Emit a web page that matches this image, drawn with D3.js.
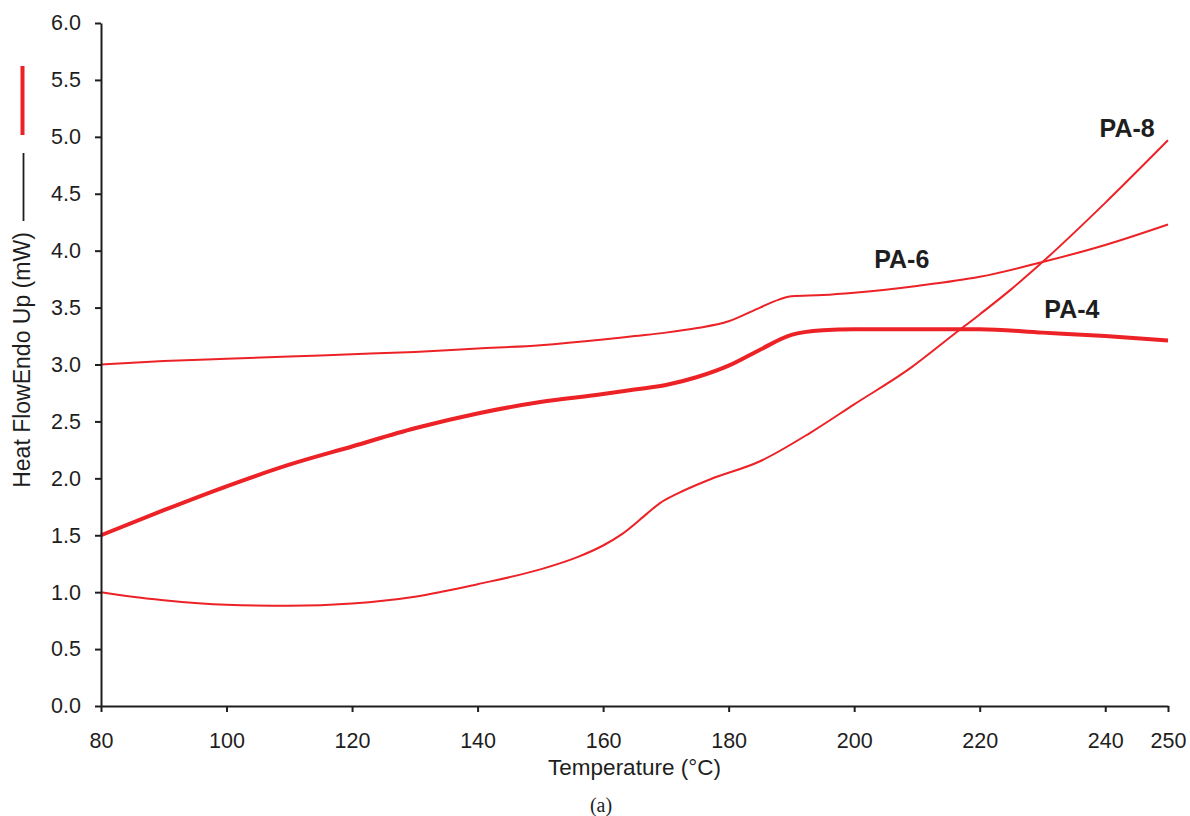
<!DOCTYPE html>
<html>
<head>
<meta charset="utf-8">
<script src="https://cdn.jsdelivr.net/npm/d3@7"></script>
<style>
  html, body { margin: 0; padding: 0; background: #fff; }
  svg { display: block; }
  text { font-family: "Liberation Sans", Arial, sans-serif; fill: #1e1e1e; }
</style>
</head>
<body>
<svg id="chart" width="1190" height="816"></svg>
<script>
// ---- data ----
const temps4 = [80, 90, 100, 110, 120, 130, 140, 150, 160, 165, 170, 175, 180, 185, 190, 195, 200, 210, 220, 230, 240, 250];
const pa4    = [1.50, 1.72, 1.93, 2.12, 2.28, 2.44, 2.57, 2.67, 2.74, 2.78, 2.82, 2.89, 2.99, 3.13, 3.26, 3.30, 3.31, 3.31, 3.31, 3.28, 3.25, 3.21];

const temps6 = [80, 90, 100, 110, 120, 130, 140, 150, 160, 165, 170, 175, 180, 185, 188, 190, 195, 200, 210, 220, 230, 240, 250];
const pa6    = [3.00, 3.03, 3.05, 3.07, 3.09, 3.11, 3.14, 3.17, 3.22, 3.25, 3.28, 3.32, 3.38, 3.50, 3.57, 3.60, 3.61, 3.63, 3.69, 3.77, 3.90, 4.05, 4.23];

const temps8 = [80, 85, 90, 100, 110, 120, 130, 140, 150, 156, 160, 163, 167, 169, 172, 177, 185, 193, 200, 209, 216, 220, 225, 230, 240, 250];
const pa8    = [1.00, 0.96, 0.93, 0.89, 0.88, 0.90, 0.96, 1.07, 1.20, 1.31, 1.41, 1.51, 1.69, 1.78, 1.87, 1.99, 2.15, 2.40, 2.65, 2.97, 3.27, 3.44, 3.66, 3.90, 4.42, 4.97];

const seriesNames = ["PA-4", "PA-6", "PA-8"];
const labelTemps  = [230.3, 203.2, 239.1];
const labelVals   = [3.41, 3.85, 5.0];

const xTicks = [80, 100, 120, 140, 160, 180, 200, 220, 240, 250];
const yTicks = [0, 0.5, 1.0, 1.5, 2.0, 2.5, 3.0, 3.5, 4.0, 4.5, 5.0, 5.5, 6.0];

const xTitle = "Temperature (°C)";
const yTitle = "Heat FlowEndo Up (mW)";
const caption = "(a)";

// ---- drawing ----
const svg = d3.select("#chart");
const red = "#ec2226";
const ink = "#1e1e1e";

const x = d3.scaleLinear().domain([80, 250]).range([101, 1168]);
const y = d3.scaleLinear().domain([0, 6]).range([706, 23]);

const series = [
  { name: seriesNames[0], t: temps4, v: pa4, w: 4 },
  { name: seriesNames[1], t: temps6, v: pa6, w: 2 },
  { name: seriesNames[2], t: temps8, v: pa8, w: 2 }
];

const line = d3.line().x(d => x(d[0])).y(d => y(d[1])).curve(d3.curveMonotoneX);

svg.append("g").selectAll("path")
  .data(series)
  .join("path")
  .attr("d", s => line(s.t.map((t, i) => [t, s.v[i]])))
  .attr("fill", "none")
  .attr("stroke", red)
  .attr("stroke-width", s => s.w)
  .attr("stroke-linejoin", "round");

// axes
const xAxis = svg.append("g")
  .attr("transform", `translate(0,${y(0)})`)
  .call(d3.axisBottom(x).tickValues(xTicks).tickFormat(d3.format("d")).tickSize(6).tickSizeOuter(0).tickPadding(21));

const yAxis = svg.append("g")
  .attr("transform", `translate(${x(80)},0)`)
  .call(d3.axisLeft(y).tickValues(yTicks).tickFormat(d3.format(".1f")).tickSize(6).tickSizeOuter(0).tickPadding(14));

[xAxis, yAxis].forEach(g => {
  g.select(".domain").attr("stroke", ink).attr("stroke-width", 2);
  g.selectAll(".tick line").attr("stroke", ink).attr("stroke-width", 2);
  g.selectAll(".tick text").attr("fill", ink).style("font-size", "21.5px").style("font-family", '"Liberation Sans", Arial, sans-serif');
});

// series labels
svg.append("g").selectAll("text")
  .data(series)
  .join("text")
  .attr("x", (s, i) => x(labelTemps[i]))
  .attr("y", (s, i) => y(labelVals[i]))
  .style("font-size", "25px")
  .style("font-weight", "bold")
  .text(s => s.name);

// axis titles
svg.append("text")
  .attr("x", (x(80) + x(250)) / 2)
  .attr("y", 775)
  .attr("text-anchor", "middle")
  .style("font-size", "22.5px")
  .text(xTitle);

svg.append("text")
  .attr("transform", "translate(30,360) rotate(-90)")
  .attr("text-anchor", "middle")
  .style("font-size", "23px")
  .text(yTitle);

// legend keys next to the y title
svg.append("line").attr("x1", 23.5).attr("x2", 23.5).attr("y1", 153).attr("y2", 221)
  .attr("stroke", ink).attr("stroke-width", 1.8);
svg.append("line").attr("x1", 22.5).attr("x2", 22.5).attr("y1", 66).attr("y2", 135)
  .attr("stroke", red).attr("stroke-width", 4);

// caption
svg.append("text")
  .attr("x", 601)
  .attr("y", 812)
  .attr("text-anchor", "middle")
  .style("font-family", '"Liberation Serif", "Times New Roman", serif')
  .style("font-size", "20px")
  .text(caption);
</script>
</body>
</html>
